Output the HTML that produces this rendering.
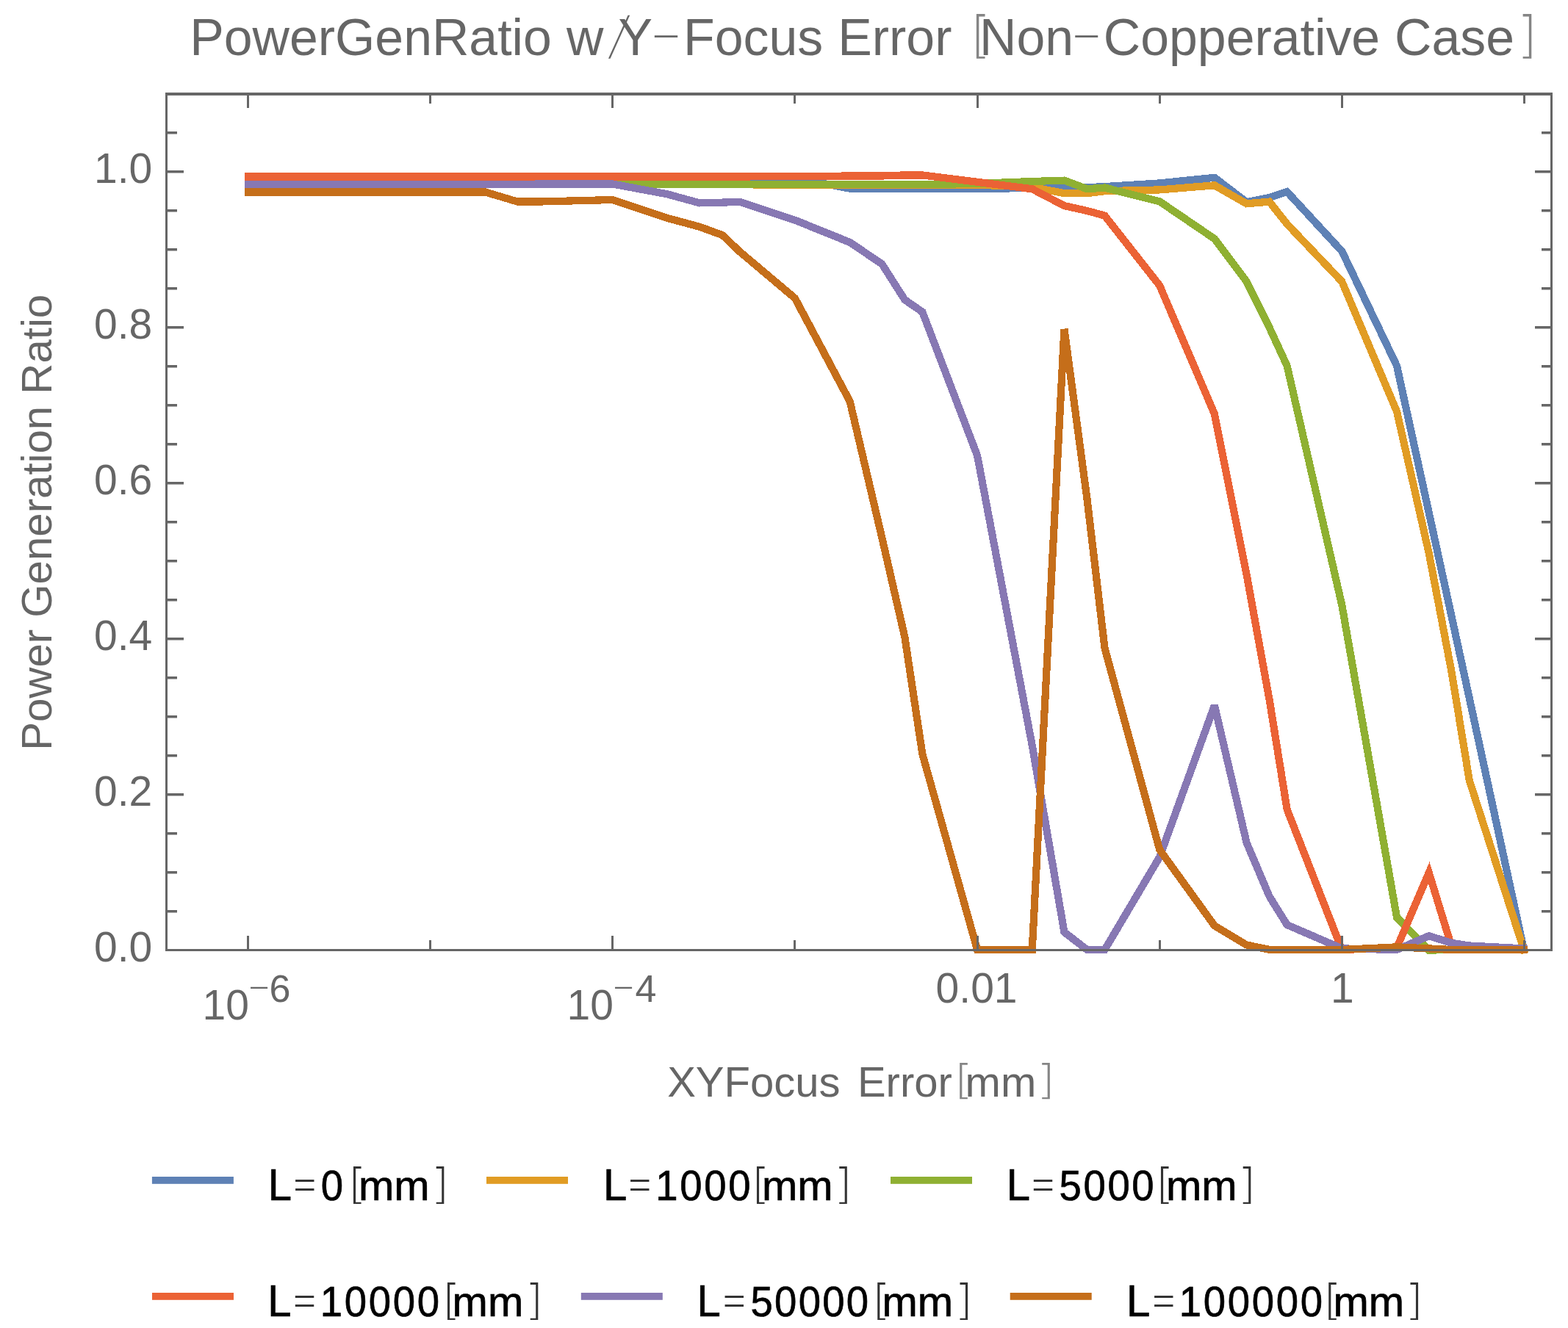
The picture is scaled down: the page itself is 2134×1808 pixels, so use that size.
<!DOCTYPE html>
<html lang="en"><head><meta charset="utf-8"><title>PowerGenRatio w/Y-Focus Error</title>
<style>
html,body{margin:0;padding:0;background:#fff;}
body{width:2134px;height:1808px;overflow:hidden;position:relative;}
svg{position:absolute;left:0;top:0;display:block;}
text{font-family:"Liberation Sans",sans-serif;fill:#666;font-size:57px;}
.t{font-size:69.8px;}
.al{font-size:58px;}
.yl{font-size:58.2px;}
.tk,.tk text{font-size:57px;}
.sup{font-size:52px;}
.lt{font-size:58px;stroke:#000;stroke-width:0.7px;}
.ld{letter-spacing:2.85px;}
.lg text{fill:#000;}
.thin{font-family:"DejaVu Sans Light","DejaVu Sans","Liberation Sans",sans-serif;font-weight:200;font-size:100px;}
.lo{fill-opacity:0.8;}
.c{fill:none;stroke-width:10.2;stroke-linejoin:miter;stroke-miterlimit:3.25;stroke-linecap:square;shape-rendering:crispEdges;}
.f{fill:#666;stroke:none;}
</style></head><body>
<svg width="2134" height="1808" viewBox="0 0 2134 1808">
<rect x="0" y="0" width="2134" height="1808" fill="#fff"/>
<g>
<polyline class="c" stroke="#5E81B5" points="338.05,250.60 412.20,250.60 455.89,250.60 486.90,250.60 510.94,250.60 585.64,250.60 660.34,250.60 704.03,250.60 735.04,250.60 759.08,250.60 833.78,250.60 908.48,250.60 952.17,250.60 983.18,250.60 1007.22,250.65 1081.92,242.40 1156.62,256.70 1200.31,256.70 1231.32,256.70 1255.36,256.70 1330.06,256.70 1404.76,256.20 1448.45,256.60 1479.46,255.20 1503.50,254.10 1578.20,249.40 1652.90,241.80 1696.59,275.20 1727.60,269.00 1751.64,261.10 1826.34,342.10 1901.04,498.10 1944.73,698.00 1975.74,840.10 1999.78,950.60 2073.93,1293.00"/>
<polyline class="c" stroke="#E19C24" points="338.05,251.00 412.20,251.00 455.89,251.00 486.90,251.00 510.94,251.00 585.64,251.00 660.34,251.00 704.03,251.00 735.04,251.00 759.08,251.00 833.78,251.00 908.48,251.00 952.17,251.00 983.18,251.00 1007.22,251.35 1081.92,251.60 1156.62,251.60 1200.31,251.60 1231.32,251.60 1255.36,251.60 1330.06,251.60 1404.76,254.70 1448.45,263.20 1479.46,263.20 1503.50,260.20 1578.20,258.40 1652.90,252.30 1696.59,277.30 1727.60,274.60 1751.64,305.00 1826.34,383.40 1901.04,560.30 1944.73,753.20 1975.74,915.80 1999.78,1062.50 2073.93,1293.00"/>
<polyline class="c" stroke="#8FB032" points="338.05,251.20 412.20,251.20 455.89,251.20 486.90,251.20 510.94,251.20 585.64,251.20 660.34,251.20 704.03,251.20 735.04,251.20 759.08,251.20 833.78,251.20 908.48,251.20 952.17,251.20 983.18,251.20 1007.22,251.20 1081.92,251.20 1156.62,251.20 1200.31,251.20 1231.32,251.20 1255.36,251.20 1330.06,249.90 1404.76,247.00 1448.45,245.60 1479.46,257.30 1503.50,255.50 1578.20,274.30 1652.90,325.10 1696.59,383.40 1727.60,445.90 1751.64,498.10 1826.34,824.10 1901.04,1249.00 1944.73,1293.60 1975.74,1293.00 1999.78,1293.00 2073.93,1293.00"/>
<polyline class="c" stroke="#EB6235" points="338.05,240.50 412.20,240.50 455.89,240.50 486.90,240.50 510.94,240.50 585.64,240.50 660.34,240.50 704.03,240.50 735.04,240.50 759.08,240.50 833.78,240.50 908.48,240.50 952.17,240.50 983.18,240.50 1007.22,240.45 1081.92,240.20 1156.62,239.50 1200.31,239.50 1231.32,238.40 1255.36,238.40 1330.06,247.80 1404.76,257.30 1448.45,280.10 1479.46,287.00 1503.50,293.60 1578.20,388.70 1652.90,563.50 1696.59,782.00 1727.60,952.50 1751.64,1102.00 1826.34,1293.00 1901.04,1290.30 1944.73,1188.20 1975.74,1289.30 1999.78,1293.00 2073.93,1293.00"/>
<polyline class="c" stroke="#8778B3" points="338.05,251.00 412.20,251.00 455.89,251.00 486.90,251.00 510.94,251.00 585.64,251.00 660.34,251.00 704.03,251.00 735.04,250.50 759.08,250.50 833.78,250.50 908.48,264.40 952.17,276.40 983.18,275.60 1007.22,274.90 1081.92,299.70 1156.62,329.90 1200.31,359.40 1231.32,408.10 1255.36,424.70 1330.06,620.20 1404.76,1015.00 1448.45,1269.10 1479.46,1293.00 1503.50,1293.00 1578.20,1166.80 1652.90,960.50 1696.59,1147.30 1727.60,1220.40 1751.64,1259.10 1826.34,1291.40 1901.04,1293.00 1944.73,1274.20 1975.74,1283.90 1999.78,1287.50 2073.93,1291.40"/>
<polyline class="c" stroke="#C56E1A" points="338.05,261.45 412.20,261.45 455.89,261.45 486.90,261.45 510.94,261.45 585.64,261.45 660.34,261.45 704.03,274.50 735.04,274.50 759.08,273.90 833.78,272.00 908.48,297.00 952.17,308.80 983.18,320.10 1007.22,343.00 1081.92,406.00 1156.62,546.40 1200.31,732.00 1231.32,867.10 1255.36,1026.70 1330.06,1293.00 1404.76,1293.00 1448.45,448.00 1479.46,679.00 1503.50,882.40 1578.20,1156.80 1652.90,1260.30 1696.59,1286.50 1727.60,1292.80 1751.64,1293.00 1826.34,1293.00 1901.04,1289.30 1944.73,1291.40 1975.74,1293.00 1999.78,1293.00 2073.93,1293.00"/>
</g>
<g class="f">
<rect x="225" y="126" width="3" height="1169" fill="#666" stroke="none"/>
<rect x="2110" y="126" width="3" height="1169" fill="#666" stroke="none"/>
<rect x="225" y="126" width="1888" height="4" fill="#666" stroke="none"/>
<rect x="225" y="1292" width="1888" height="3" fill="#666" stroke="none"/>
<rect x="336" y="1274" width="3" height="18" fill="#666" stroke="none"/>
<rect x="336" y="130" width="3" height="17" fill="#666" stroke="none"/>
<rect x="584" y="1280" width="3" height="12" fill="#666" stroke="none"/>
<rect x="584" y="130" width="3" height="11" fill="#666" stroke="none"/>
<rect x="832" y="1274" width="3" height="18" fill="#666" stroke="none"/>
<rect x="832" y="130" width="3" height="17" fill="#666" stroke="none"/>
<rect x="1080" y="1280" width="3" height="12" fill="#666" stroke="none"/>
<rect x="1080" y="130" width="3" height="11" fill="#666" stroke="none"/>
<rect x="1329" y="1274" width="3" height="18" fill="#666" stroke="none"/>
<rect x="1329" y="130" width="3" height="17" fill="#666" stroke="none"/>
<rect x="1577" y="1280" width="3" height="12" fill="#666" stroke="none"/>
<rect x="1577" y="130" width="3" height="11" fill="#666" stroke="none"/>
<rect x="1825" y="1274" width="3" height="18" fill="#666" stroke="none"/>
<rect x="1825" y="130" width="3" height="17" fill="#666" stroke="none"/>
<rect x="2073" y="1280" width="3" height="12" fill="#666" stroke="none"/>
<rect x="2073" y="130" width="3" height="11" fill="#666" stroke="none"/>
<rect x="228" y="1239.00" width="13" height="3.5" fill="#666" stroke="none"/>
<rect x="2098" y="1239.00" width="12" height="3.5" fill="#666" stroke="none"/>
<rect x="228" y="1186.00" width="13" height="3.5" fill="#666" stroke="none"/>
<rect x="2098" y="1186.00" width="12" height="3.5" fill="#666" stroke="none"/>
<rect x="228" y="1133.00" width="13" height="3.5" fill="#666" stroke="none"/>
<rect x="2098" y="1133.00" width="12" height="3.5" fill="#666" stroke="none"/>
<rect x="228" y="1080.00" width="22" height="3.5" fill="#666" stroke="none"/>
<rect x="2089" y="1080.00" width="21" height="3.5" fill="#666" stroke="none"/>
<rect x="228" y="1027.00" width="13" height="3.5" fill="#666" stroke="none"/>
<rect x="2098" y="1027.00" width="12" height="3.5" fill="#666" stroke="none"/>
<rect x="228" y="974.00" width="13" height="3.5" fill="#666" stroke="none"/>
<rect x="2098" y="974.00" width="12" height="3.5" fill="#666" stroke="none"/>
<rect x="228" y="921.00" width="13" height="3.5" fill="#666" stroke="none"/>
<rect x="2098" y="921.00" width="12" height="3.5" fill="#666" stroke="none"/>
<rect x="228" y="868.00" width="22" height="3.5" fill="#666" stroke="none"/>
<rect x="2089" y="868.00" width="21" height="3.5" fill="#666" stroke="none"/>
<rect x="228" y="815.00" width="13" height="3.5" fill="#666" stroke="none"/>
<rect x="2098" y="815.00" width="12" height="3.5" fill="#666" stroke="none"/>
<rect x="228" y="762.00" width="13" height="3.5" fill="#666" stroke="none"/>
<rect x="2098" y="762.00" width="12" height="3.5" fill="#666" stroke="none"/>
<rect x="228" y="709.00" width="13" height="3.5" fill="#666" stroke="none"/>
<rect x="2098" y="709.00" width="12" height="3.5" fill="#666" stroke="none"/>
<rect x="228" y="656.00" width="22" height="3.5" fill="#666" stroke="none"/>
<rect x="2089" y="656.00" width="21" height="3.5" fill="#666" stroke="none"/>
<rect x="228" y="603.00" width="13" height="3.5" fill="#666" stroke="none"/>
<rect x="2098" y="603.00" width="12" height="3.5" fill="#666" stroke="none"/>
<rect x="228" y="550.00" width="13" height="3.5" fill="#666" stroke="none"/>
<rect x="2098" y="550.00" width="12" height="3.5" fill="#666" stroke="none"/>
<rect x="228" y="497.00" width="13" height="3.5" fill="#666" stroke="none"/>
<rect x="2098" y="497.00" width="12" height="3.5" fill="#666" stroke="none"/>
<rect x="228" y="444.00" width="22" height="3.5" fill="#666" stroke="none"/>
<rect x="2089" y="444.00" width="21" height="3.5" fill="#666" stroke="none"/>
<rect x="228" y="391.00" width="13" height="3.5" fill="#666" stroke="none"/>
<rect x="2098" y="391.00" width="12" height="3.5" fill="#666" stroke="none"/>
<rect x="228" y="338.00" width="13" height="3.5" fill="#666" stroke="none"/>
<rect x="2098" y="338.00" width="12" height="3.5" fill="#666" stroke="none"/>
<rect x="228" y="285.00" width="13" height="3.5" fill="#666" stroke="none"/>
<rect x="2098" y="285.00" width="12" height="3.5" fill="#666" stroke="none"/>
<rect x="228" y="232.00" width="22" height="3.5" fill="#666" stroke="none"/>
<rect x="2089" y="232.00" width="21" height="3.5" fill="#666" stroke="none"/>
<rect x="228" y="179.00" width="13" height="3.5" fill="#666" stroke="none"/>
<rect x="2098" y="179.00" width="12" height="3.5" fill="#666" stroke="none"/>
</g>
<g id="title">
<text class="t" x="258.20" y="74.90">PowerGenRatio</text>
<text class="t" x="770.90" y="74.90">w</text>
<text class="thin" transform="matrix(0.5 0 -0.170 0.717 828.67 73.09)" x="0" y="0">/</text>
<text class="t" x="841.50" y="74.90">Y</text>
<text class="thin" transform="matrix(1.1923 0 0 0.7000 885.04 68.85)" x="0" y="0">-</text>
<text class="t" x="930.10" y="74.90">Focus</text>
<text class="t" x="1140.30" y="74.90">Error</text>
<text class="thin lo" transform="matrix(0.6970 0 0 0.6854 1321.08 70.99)" x="0" y="0">[</text>
<text class="t" x="1333.00" y="74.90">Non</text>
<text class="thin" transform="matrix(1.1769 0 0 0.7000 1457.42 68.85)" x="0" y="0">-</text>
<text class="t" x="1501.80" y="74.90">Copperative</text>
<text class="t" x="1898.10" y="74.90">Case</text>
<text class="thin lo" transform="matrix(0.6970 0 0 0.6854 2064.68 70.99)" x="0" y="0">]</text>
</g>
<g id="yticks" class="tk" text-anchor="end">
<text x="207.2" y="248.5">1.0</text>
<text x="207.2" y="460.5">0.8</text>
<text x="207.2" y="672.5">0.6</text>
<text x="207.2" y="884.5">0.4</text>
<text x="207.2" y="1096.5">0.2</text>
<text x="207.2" y="1308.5">0.0</text>
</g>
<g id="xticks">
<text class="tk" x="275.50" y="1387.90">10</text>
<text class="thin" transform="matrix(0.8769 0 0 0.5750 336.72 1360.71)" x="0" y="0">-</text>
<text class="sup" x="366.50" y="1363.60">6</text>
<text class="tk" x="771.50" y="1387.90">10</text>
<text class="thin" transform="matrix(0.8769 0 0 0.5750 832.72 1360.71)" x="0" y="0">-</text>
<text class="sup" x="864.40" y="1363.60">4</text>
<text class="tk" x="1273.60" y="1365.30">0.01</text>
<text class="tk" x="1811.00" y="1365.30">1</text>
</g>
<g id="axlabels">
<text class="al" x="908.20" y="1493.20">XYFocus</text>
<text class="al" x="1166.90" y="1493.20">Error</text>
<text class="thin lo" transform="matrix(0.6364 0 0 0.5438 1298.98 1488.83)" x="0" y="0">[</text>
<text class="al" x="1313.60" y="1493.20">mm</text>
<text class="thin lo" transform="matrix(0.6364 0 0 0.5438 1410.88 1488.83)" x="0" y="0">]</text>
<text class="yl" transform="translate(70 1021.8) rotate(-90)" x="0" y="0">Power Generation Ratio</text>
</g>
<g id="legend">
<rect x="206.9" y="1602.0" width="111" height="9.8" fill="#5E81B5"/>
<rect x="662.0" y="1602.0" width="111" height="9.8" fill="#E19C24"/>
<rect x="1212.0" y="1602.0" width="111" height="9.8" fill="#8FB032"/>
<rect x="207.0" y="1760.0" width="111" height="9.8" fill="#EB6235"/>
<rect x="790.8" y="1760.0" width="111" height="9.8" fill="#8778B3"/>
<rect x="1374.7" y="1760.0" width="111" height="9.8" fill="#C56E1A"/>
</g><g id="legtext" class="lg">
<text class="lt" transform="translate(364.70 1634.20) scale(1 1.05)" x="0" y="0">L</text>
<text class="thin lo" transform="matrix(0.4064 0 0 0.7487 397.63 1636.80)" x="0" y="0">=</text>
<text class="lt ld" transform="translate(436.80 1634.20) scale(0.94 1)" x="0" y="0">0</text>
<text class="thin lo" transform="matrix(0.6364 0 0 0.5640 473.68 1630.77)" x="0" y="0">[</text>
<text class="lt" x="488.00" y="1634.20">mm</text>
<text class="thin lo" transform="matrix(0.6364 0 0 0.5640 586.38 1630.77)" x="0" y="0">]</text>
<text class="lt" transform="translate(821.10 1634.20) scale(1 1.05)" x="0" y="0">L</text>
<text class="thin lo" transform="matrix(0.4064 0 0 0.7487 853.73 1636.80)" x="0" y="0">=</text>
<text class="lt ld" transform="translate(892.30 1634.20) scale(0.94 1)" x="0" y="0">1000</text>
<text class="thin lo" transform="matrix(0.6364 0 0 0.5640 1022.78 1630.77)" x="0" y="0">[</text>
<text class="lt" x="1036.90" y="1634.20">mm</text>
<text class="thin lo" transform="matrix(0.6364 0 0 0.5640 1134.88 1630.77)" x="0" y="0">]</text>
<text class="lt" transform="translate(1369.80 1634.20) scale(1 1.05)" x="0" y="0">L</text>
<text class="thin lo" transform="matrix(0.4064 0 0 0.7487 1402.53 1636.80)" x="0" y="0">=</text>
<text class="lt ld" transform="translate(1441.40 1634.20) scale(0.94 1)" x="0" y="0">5000</text>
<text class="thin lo" transform="matrix(0.6364 0 0 0.5640 1572.78 1630.77)" x="0" y="0">[</text>
<text class="lt" x="1586.90" y="1634.20">mm</text>
<text class="thin lo" transform="matrix(0.6364 0 0 0.5640 1684.48 1630.77)" x="0" y="0">]</text>
<text class="lt" transform="translate(364.30 1792.20) scale(1 1.05)" x="0" y="0">L</text>
<text class="thin lo" transform="matrix(0.4064 0 0 0.7487 397.53 1794.80)" x="0" y="0">=</text>
<text class="lt ld" transform="translate(435.80 1792.20) scale(0.94 1)" x="0" y="0">10000</text>
<text class="thin lo" transform="matrix(0.6364 0 0 0.5640 601.78 1788.77)" x="0" y="0">[</text>
<text class="lt" x="615.60" y="1792.20">mm</text>
<text class="thin lo" transform="matrix(0.6364 0 0 0.5640 714.58 1788.77)" x="0" y="0">]</text>
<text class="lt" transform="translate(948.50 1792.20) scale(1 1.05)" x="0" y="0">L</text>
<text class="thin lo" transform="matrix(0.4064 0 0 0.7487 982.33 1794.80)" x="0" y="0">=</text>
<text class="lt ld" transform="translate(1021.50 1792.20) scale(0.94 1)" x="0" y="0" style="letter-spacing:2.4px">50000</text>
<text class="thin lo" transform="matrix(0.6364 0 0 0.5640 1186.88 1788.77)" x="0" y="0">[</text>
<text class="lt" x="1200.40" y="1792.20">mm</text>
<text class="thin lo" transform="matrix(0.6364 0 0 0.5640 1299.28 1788.77)" x="0" y="0">]</text>
<text class="lt" transform="translate(1533.00 1792.20) scale(1 1.05)" x="0" y="0">L</text>
<text class="thin lo" transform="matrix(0.4064 0 0 0.7487 1566.83 1794.80)" x="0" y="0">=</text>
<text class="lt ld" transform="translate(1604.70 1792.20) scale(0.94 1)" x="0" y="0">100000</text>
<text class="thin lo" transform="matrix(0.6364 0 0 0.5640 1800.98 1788.77)" x="0" y="0">[</text>
<text class="lt" x="1814.50" y="1792.20">mm</text>
<text class="thin lo" transform="matrix(0.6364 0 0 0.5640 1912.28 1788.77)" x="0" y="0">]</text>
</g>

</svg></body></html>
